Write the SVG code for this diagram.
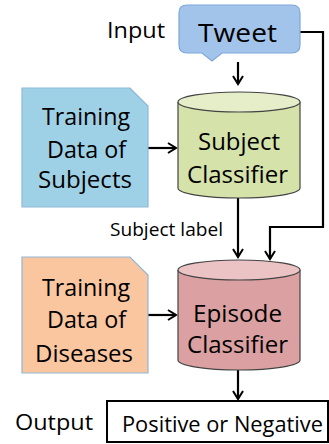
<svg xmlns="http://www.w3.org/2000/svg" width="329" height="444" viewBox="0 0 329 444">
<defs>
<marker id="arr" viewBox="0 0 12 12" refX="10" refY="6" markerWidth="12" markerHeight="12" markerUnits="userSpaceOnUse" orient="auto">
<path d="M2,1 L10,6 L2,11" fill="none" stroke="#000" stroke-width="2"/>
</marker>
</defs>
<style>
text{font-family:"Open Sans","Liberation Sans",sans-serif;fill:#000}
.lbl{font-size:24px}
.conn{fill:none;stroke:#000;stroke-width:2.2}
.cyl{stroke:#444;stroke-width:1.2}
</style>
<rect width="329" height="444" fill="#fff"/>
<g id="connectors">
<path class="conn" d="M238,62 V84" marker-end="url(#arr)"/>
<path class="conn" d="M148,148 H176" marker-end="url(#arr)"/>
<path class="conn" d="M238,198 V257" marker-end="url(#arr)"/>
<path class="conn" d="M300,32 H323 V227 H270 V259" marker-end="url(#arr)"/>
<path class="conn" d="M148,315 H176" marker-end="url(#arr)"/>
<path class="conn" d="M238,370 V399" marker-end="url(#arr)"/>
</g>
<g id="input-label"><text x="107" y="38" font-size="22" textLength="58" lengthAdjust="spacingAndGlyphs">Input</text></g>
<g id="tweet">
<path d="M187,5 H292 Q300,5 300,13 V45 Q300,53 292,53 H222 L212,61 L202,53 H187 Q179,53 179,45 V13 Q179,5 187,5 Z" fill="#a2c4ea" stroke="#7ea7d8" stroke-width="1.2"/>
<text x="198" y="42" font-size="26" textLength="79" lengthAdjust="spacingAndGlyphs">Tweet</text>
</g>
<g id="training-subjects">
<path d="M22,88 H130 L148,106 V207 H22 Z" fill="#9fd1e6" stroke="#8fb7d8" stroke-width="1.2"/>
<text class="lbl" x="42" y="125" textLength="88" lengthAdjust="spacingAndGlyphs">Training</text>
<text class="lbl" x="47" y="158" textLength="79" lengthAdjust="spacingAndGlyphs">Data of</text>
<text class="lbl" x="38" y="188" textLength="94" lengthAdjust="spacingAndGlyphs">Subjects</text>
</g>
<g id="subject-classifier">
<path class="cyl" d="M178,102 V188 A61,10 0 0 0 300,188 V102" fill="#d5e2a9"/>
<ellipse class="cyl" cx="239" cy="102" rx="61" ry="10" fill="#e6eec9"/>
<text class="lbl" x="198" y="150" textLength="82" lengthAdjust="spacingAndGlyphs">Subject</text>
<text class="lbl" x="187" y="183" textLength="101" lengthAdjust="spacingAndGlyphs">Classifier</text>
</g>
<g id="subject-label"><text x="110" y="236" font-size="19" textLength="113" lengthAdjust="spacingAndGlyphs">Subject label</text></g>
<g id="training-diseases">
<path d="M22,257 H130 L148,275 V373 H22 Z" fill="#fac69f" stroke="#8fb7d8" stroke-width="1.2"/>
<text class="lbl" x="42" y="296" textLength="88" lengthAdjust="spacingAndGlyphs">Training</text>
<text class="lbl" x="47" y="328" textLength="79" lengthAdjust="spacingAndGlyphs">Data of</text>
<text class="lbl" x="35" y="362" textLength="98" lengthAdjust="spacingAndGlyphs">Diseases</text>
</g>
<g id="episode-classifier">
<path class="cyl" d="M178,270 V360 A61,10 0 0 0 300,360 V270" fill="#dba0a1"/>
<ellipse class="cyl" cx="239" cy="270" rx="61" ry="10" fill="#ecc3c4"/>
<text class="lbl" x="193" y="322" textLength="89" lengthAdjust="spacingAndGlyphs">Episode</text>
<text class="lbl" x="187" y="353" textLength="101" lengthAdjust="spacingAndGlyphs">Classifier</text>
</g>
<g id="output-label"><text x="15" y="430" font-size="22" textLength="78" lengthAdjust="spacingAndGlyphs">Output</text></g>
<g id="output">
<rect x="107" y="401" width="221" height="41" fill="#fff" stroke="#000" stroke-width="2"/>
<text x="122" y="432" font-size="22" textLength="201" lengthAdjust="spacingAndGlyphs">Positive or Negative</text>
</g>
</svg>
